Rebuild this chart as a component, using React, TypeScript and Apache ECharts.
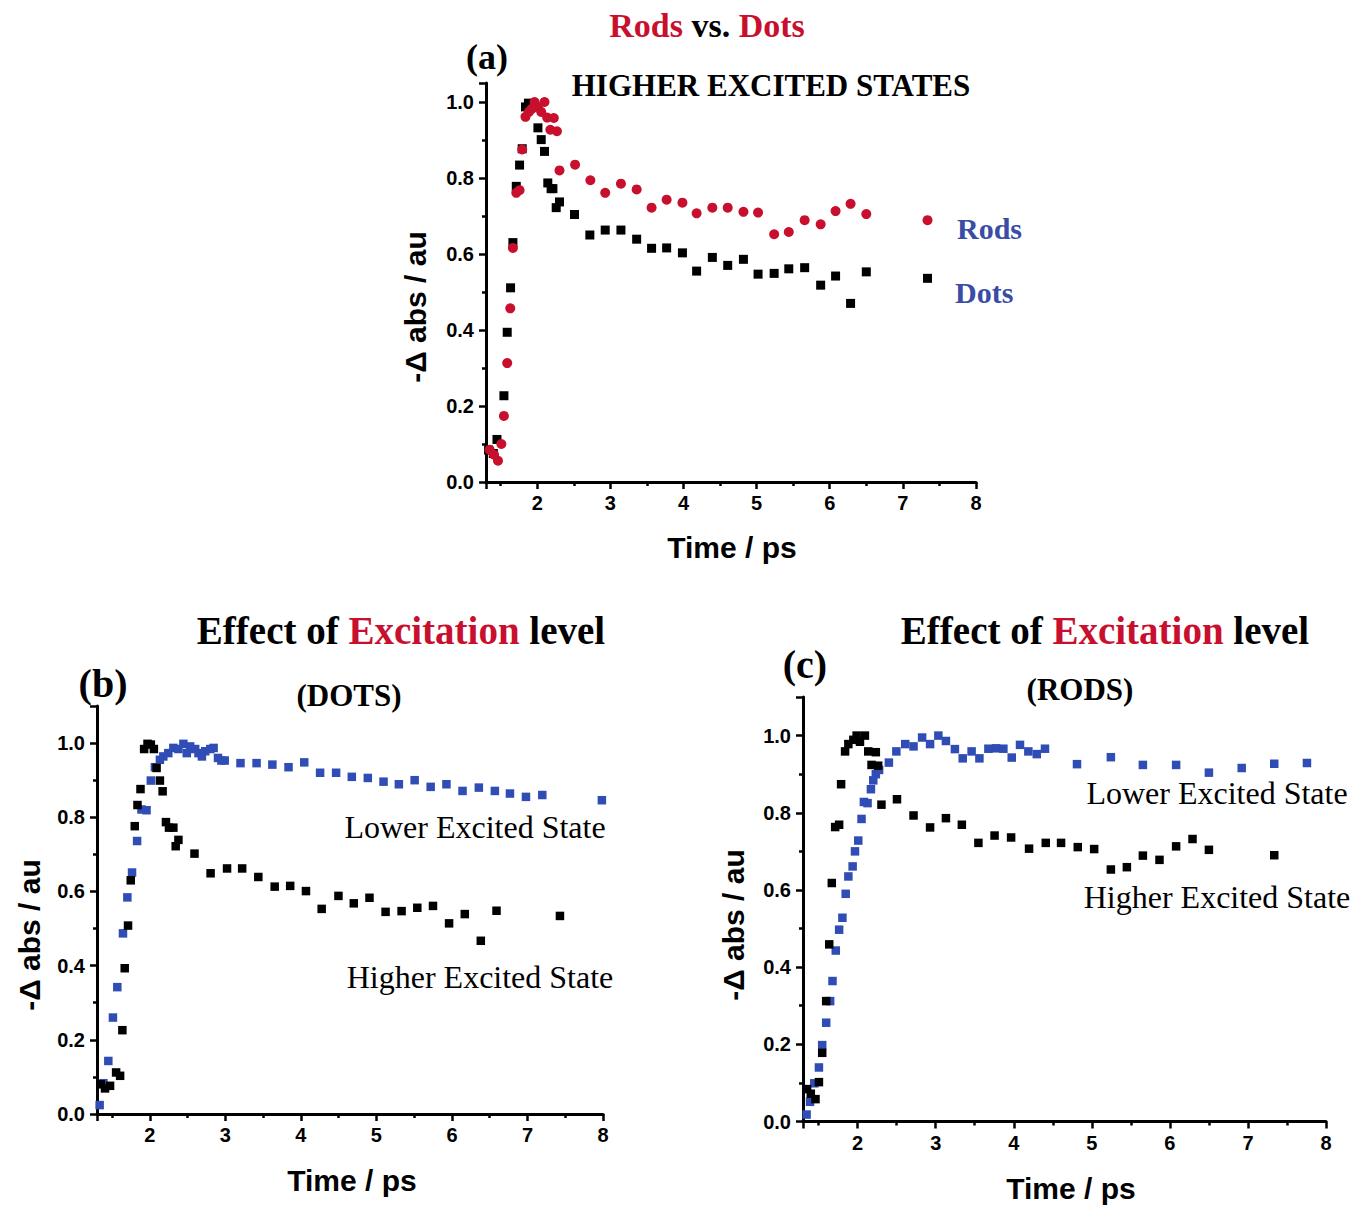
import React, { useEffect, useRef } from "react";
import * as echarts from "echarts";

// ---------- DATA ----------
// Panel (a): higher excited states, dots (black squares) and rods (red circles)
const aDots: number[][] = [
  [1.335, 0.084], [1.40, 0.075], [1.45, 0.112], [1.545, 0.227], [1.59, 0.394], [1.636, 0.511],
  [1.668, 0.630], [1.714, 0.778], [1.759, 0.834], [1.795, 0.877], [1.84, 0.987], [1.88, 0.997],
  [1.92, 0.995], [2.01, 0.932], [2.055, 0.901], [2.10, 0.870], [2.145, 0.787], [2.19, 0.772],
  [2.215, 0.772], [2.26, 0.722], [2.305, 0.737], [2.51, 0.704], [2.72, 0.650], [2.93, 0.663],
  [3.145, 0.663], [3.36, 0.639], [3.564, 0.615], [3.77, 0.616], [3.986, 0.603], [4.18, 0.555],
  [4.395, 0.591], [4.605, 0.570], [4.82, 0.586], [5.02, 0.547], [5.24, 0.549], [5.44, 0.561],
  [5.657, 0.564], [5.876, 0.518], [6.08, 0.542], [6.285, 0.470], [6.50, 0.553], [7.337, 0.536],
];
const aRods: number[][] = [
  [1.35, 0.085], [1.41, 0.072], [1.464, 0.056], [1.51, 0.100], [1.545, 0.174], [1.59, 0.313],
  [1.632, 0.457], [1.668, 0.616], [1.714, 0.761], [1.759, 0.768], [1.795, 0.875], [1.84, 0.961],
  [1.886, 0.974], [1.927, 0.982], [1.964, 1.0], [2.01, 0.987], [2.055, 0.974], [2.10, 1.0],
  [2.136, 0.959], [2.18, 0.927], [2.227, 0.958], [2.27, 0.923], [2.305, 0.820], [2.518, 0.835],
  [2.727, 0.794], [2.93, 0.761], [3.145, 0.785], [3.36, 0.770], [3.564, 0.722], [3.77, 0.743],
  [3.986, 0.735], [4.18, 0.707], [4.395, 0.722], [4.605, 0.722], [4.82, 0.711], [5.02, 0.709],
  [5.24, 0.652], [5.44, 0.658], [5.657, 0.689], [5.876, 0.678], [6.08, 0.713], [6.285, 0.732],
  [6.50, 0.705], [7.337, 0.689],
];
// Panel (b): dots, higher (black) and lower (blue) excited state
const bHigher: number[][] = [
  [1.35, 0.080], [1.406, 0.069], [1.473, 0.076], [1.553, 0.112], [1.606, 0.103], [1.636, 0.226],
  [1.667, 0.393], [1.711, 0.508], [1.747, 0.630], [1.80, 0.776], [1.836, 0.833], [1.876, 0.876],
  [1.924, 0.984], [1.969, 0.998], [2.013, 0.996], [2.053, 0.984], [2.089, 0.933], [2.133, 0.899],
  [2.169, 0.870], [2.213, 0.787], [2.253, 0.772], [2.311, 0.772], [2.342, 0.722], [2.378, 0.739],
  [2.591, 0.702], [2.804, 0.649], [3.022, 0.662], [3.222, 0.662], [3.436, 0.639], [3.653, 0.613],
  [3.858, 0.615], [4.067, 0.601], [4.275, 0.553], [4.497, 0.588], [4.70, 0.568], [4.908, 0.583],
  [5.121, 0.545], [5.333, 0.547], [5.541, 0.556], [5.749, 0.561], [5.962, 0.514], [6.17, 0.539],
  [6.382, 0.467], [6.59, 0.548], [7.43, 0.534],
];
const bLower: number[][] = [
  [1.335, 0.024], [1.385, 0.083], [1.45, 0.143], [1.511, 0.260], [1.569, 0.342], [1.644, 0.487],
  [1.702, 0.584], [1.764, 0.651], [1.831, 0.736], [1.889, 0.821], [1.956, 0.819], [2.013, 0.899],
  [2.067, 0.935], [2.133, 0.955], [2.178, 0.964], [2.244, 0.973], [2.311, 0.987], [2.378, 0.984],
  [2.444, 0.998], [2.489, 0.973], [2.533, 0.991], [2.60, 0.984], [2.644, 0.973], [2.689, 0.964],
  [2.733, 0.978], [2.80, 0.984], [2.844, 0.987], [2.902, 0.960], [2.947, 0.953], [2.991, 0.953],
  [3.20, 0.946], [3.413, 0.946], [3.622, 0.942], [3.836, 0.935], [4.044, 0.948], [4.254, 0.920],
  [4.466, 0.920], [4.674, 0.909], [4.886, 0.906], [5.094, 0.896], [5.297, 0.889], [5.506, 0.900],
  [5.718, 0.882], [5.927, 0.889], [6.14, 0.871], [6.356, 0.880], [6.568, 0.871], [6.768, 0.864],
  [6.98, 0.855], [7.196, 0.860], [7.985, 0.846],
];
// Panel (c): rods, higher (black) and lower (blue) excited state
const cHigher: number[][] = [
  [1.352, 0.084], [1.40, 0.072], [1.46, 0.058], [1.504, 0.102], [1.546, 0.178], [1.597, 0.312],
  [1.636, 0.459], [1.669, 0.618], [1.712, 0.763], [1.763, 0.769], [1.788, 0.874], [1.839, 0.959],
  [1.881, 0.978], [1.945, 0.989], [1.987, 1.0], [2.03, 0.984], [2.093, 1.0], [2.136, 0.959],
  [2.178, 0.924], [2.233, 0.957], [2.263, 0.922], [2.305, 0.821], [2.504, 0.835], [2.716, 0.793],
  [2.928, 0.762], [3.131, 0.786], [3.335, 0.769], [3.547, 0.722], [3.754, 0.741], [3.966, 0.736],
  [4.196, 0.707], [4.41, 0.722], [4.606, 0.722], [4.82, 0.711], [5.03, 0.706], [5.244, 0.653],
  [5.449, 0.659], [5.654, 0.689], [5.867, 0.678], [6.08, 0.713], [6.29, 0.732], [6.50, 0.704],
  [7.337, 0.690],
];
const cLower: number[][] = [
  [1.346, 0.018], [1.39, 0.051], [1.444, 0.099], [1.504, 0.140], [1.546, 0.198], [1.597, 0.256],
  [1.648, 0.312], [1.678, 0.364], [1.72, 0.443], [1.763, 0.497], [1.805, 0.528], [1.847, 0.590],
  [1.881, 0.635], [1.936, 0.661], [1.966, 0.700], [2.008, 0.728], [2.05, 0.784], [2.08, 0.828],
  [2.127, 0.825], [2.17, 0.861], [2.20, 0.884], [2.233, 0.900], [2.275, 0.911], [2.40, 0.930],
  [2.496, 0.959], [2.61, 0.978], [2.716, 0.972], [2.826, 0.995], [2.928, 0.978], [3.034, 1.0],
  [3.131, 0.986], [3.246, 0.965], [3.346, 0.941], [3.46, 0.959], [3.56, 0.941], [3.675, 0.966],
  [3.773, 0.967], [3.867, 0.966], [3.974, 0.943], [4.08, 0.976], [4.187, 0.959], [4.295, 0.952],
  [4.40, 0.966], [4.81, 0.926], [5.244, 0.944], [5.654, 0.924], [6.08, 0.924], [6.50, 0.904],
  [6.92, 0.916], [7.337, 0.927], [7.756, 0.929],
];

const xRange = [1.3, 8];
const yMaxA = 1.05;
const yMaxBC = 1.1;
const xTitle = "Time / ps";
const yTitle = "-Δ abs / au";

// ---------- STYLE ----------
const SERIF = "'Liberation Serif', 'Times New Roman', serif";
const SANS = "'Liberation Sans', Arial, sans-serif";
const RED = "#C8102E";
const BLUE = "#2F4DB4";
const BLUE_TEXT = "#3A4CA6";

function xAxisCfg(gridIndex: number) {
  return {
    type: "value",
    gridIndex,
    min: xRange[0],
    max: xRange[1],
    splitNumber: 7,
    axisLine: { show: true, onZero: false, lineStyle: { color: "#000", width: 3 } },
    axisTick: { show: true, length: 7, lineStyle: { color: "#000", width: 2.5 } },
    minorTick: { show: true, splitNumber: 2, length: 4, lineStyle: { color: "#000", width: 2.5 } },
    splitLine: { show: false },
    axisLabel: {
      color: "#000",
      fontFamily: SANS,
      fontWeight: "bold",
      fontSize: 20,
      margin: 11,
      showMinLabel: false,
      formatter: (v: number) => (Math.abs(v - Math.round(v)) < 1e-6 ? String(Math.round(v)) : ""),
    },
  };
}

function yAxisCfg(gridIndex: number, max: number) {
  return {
    type: "value",
    gridIndex,
    min: 0,
    max,
    interval: 0.2,
    axisLine: { show: true, onZero: false, lineStyle: { color: "#000", width: 3 } },
    axisTick: { show: true, length: 7, lineStyle: { color: "#000", width: 2.5 } },
    minorTick: { show: true, splitNumber: 2, length: 4, lineStyle: { color: "#000", width: 2.5 } },
    splitLine: { show: false },
    axisLabel: {
      color: "#000",
      fontFamily: SANS,
      fontWeight: "bold",
      fontSize: 20,
      margin: 12,
      showMaxLabel: false,
      formatter: (v: number) => (Math.abs(v * 5 - Math.round(v * 5)) < 1e-6 ? v.toFixed(1) : ""),
    },
  };
}

function scatter(name: string, data: number[][], idx: number, symbol: string, color: string, size: number, z: number) {
  return {
    name,
    type: "scatter",
    xAxisIndex: idx,
    yAxisIndex: idx,
    data,
    symbol,
    symbolSize: size,
    itemStyle: { color, opacity: 1 },
    z,
  };
}

function txt(text: string, x: number, y: number, font: string, fill = "#000", align = "center", rotation = 0) {
  return {
    type: "text",
    x,
    y,
    rotation,
    z: 100,
    style: { text, font, fill, align, verticalAlign: "middle" },
  };
}

function richTitle(x: number, y: number, parts: string, size: number) {
  const font = `bold ${size}px ${SERIF}`;
  return {
    type: "text",
    x,
    y,
    z: 100,
    style: {
      text: parts,
      font,
      fill: "#000",
      align: "center",
      verticalAlign: "middle",
      rich: {
        r: { fill: RED, font },
        k: { fill: "#000", font },
      },
    },
  };
}

export default function App() {
  const ref = useRef<HTMLDivElement>(null);
  useEffect(() => {
    if (!ref.current) return;
    const chart = echarts.init(ref.current, null, { renderer: "svg" });
    const axisNameFont = `bold 30px ${SANS}`;
    chart.setOption({
      animation: false,
      backgroundColor: "#fff",
      grid: [
        { left: 486, top: 83, width: 490, height: 399 },
        { left: 97, top: 706, width: 506, height: 408 },
        { left: 803, top: 697, width: 523, height: 424.5 },
      ],
      xAxis: [xAxisCfg(0), xAxisCfg(1), xAxisCfg(2)],
      yAxis: [yAxisCfg(0, yMaxA), yAxisCfg(1, yMaxBC), yAxisCfg(2, yMaxBC)],
      series: [
        scatter("Dots", aDots, 0, "rect", "#000", 9, 2),
        scatter("Rods", aRods, 0, "circle", RED, 10, 3),
        scatter("Lower Excited State (Dots)", bLower, 1, "rect", BLUE, 8.5, 2),
        scatter("Higher Excited State (Dots)", bHigher, 1, "rect", "#000", 8.5, 3),
        scatter("Lower Excited State (Rods)", cLower, 2, "rect", BLUE, 8.5, 2),
        scatter("Higher Excited State (Rods)", cHigher, 2, "rect", "#000", 8.5, 3),
      ],
      graphic: [
        richTitle(707, 25, "{r|Rods}{k| vs. }{r|Dots}", 34),
        txt("(a)", 487, 57, `bold 36px ${SERIF}`),
        txt("HIGHER EXCITED STATES", 771, 85, `bold 31px ${SERIF}`),
        txt("Rods", 957, 228, `bold 30px ${SERIF}`, BLUE_TEXT, "left"),
        txt("Dots", 955, 292, `bold 30px ${SERIF}`, BLUE_TEXT, "left"),
        txt(xTitle, 732, 547, axisNameFont),
        txt(yTitle, 415, 307, axisNameFont, "#000", "center", Math.PI / 2),

        richTitle(401, 630, "{k|Effect of }{r|Excitation}{k| level}", 39),
        txt("(b)", 103, 683, `bold 40px ${SERIF}`),
        txt("(DOTS)", 349, 695, `bold 31px ${SERIF}`),
        txt("Lower Excited State", 475, 827, `32px ${SERIF}`),
        txt("Higher Excited State", 480, 977, `32px ${SERIF}`),
        txt(xTitle, 352, 1180, axisNameFont),
        txt(yTitle, 29, 935, axisNameFont, "#000", "center", Math.PI / 2),

        richTitle(1105, 630, "{k|Effect of }{r|Excitation}{k| level}", 39),
        txt("(c)", 805, 664, `bold 40px ${SERIF}`),
        txt("(RODS)", 1080, 689, `bold 31px ${SERIF}`),
        txt("Lower Excited State", 1217, 793, `32px ${SERIF}`),
        txt("Higher Excited State", 1217, 897, `32px ${SERIF}`),
        txt(xTitle, 1071, 1188, axisNameFont),
        txt(yTitle, 733, 925, axisNameFont, "#000", "center", Math.PI / 2),
      ],
    });
    return () => chart.dispose();
  }, []);
  return (
    <div
      ref={ref}
      style={{ position: "absolute", left: 0, top: 0, width: 1356, height: 1205, background: "#fff" }}
    />
  );
}
